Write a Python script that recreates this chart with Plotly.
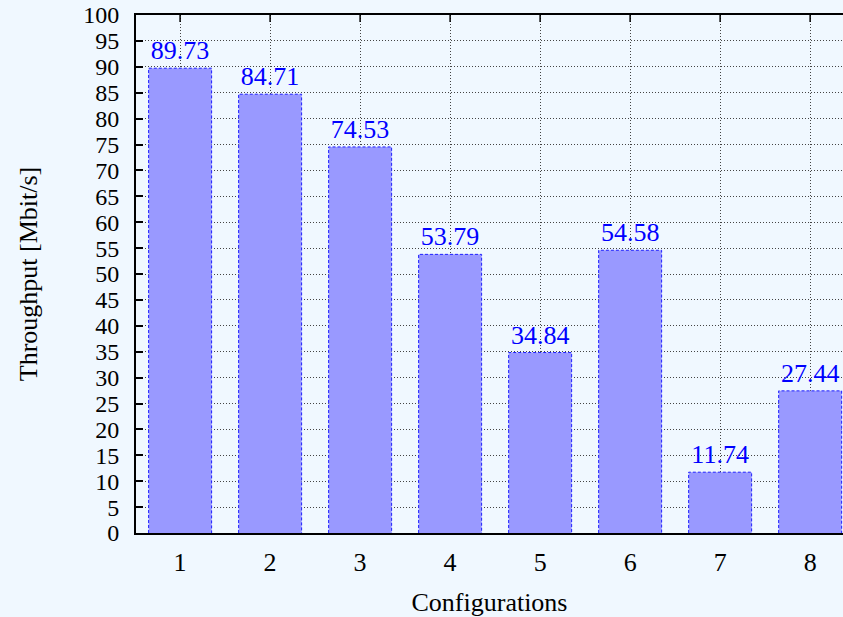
import plotly.graph_objects as go

categories = [1, 2, 3, 4, 5, 6, 7, 8]
throughput = [89.73, 84.71, 74.53, 53.79, 34.84, 54.58, 11.74, 27.44]
y_ticks = list(range(0, 101, 5))
labels = [f"{v:.2f}" for v in throughput]

FONT = "Liberation Serif, Times New Roman, serif"
BAR_W = 0.7
BG = "#f0f8ff"

fig = go.Figure()
fig.add_trace(go.Bar(
    x=categories, y=throughput, width=BAR_W,
    marker=dict(color="#9999ff", line=dict(width=0)),
    text=labels, textposition="outside", cliponaxis=False,
    textfont=dict(color="#0000ff", size=26, family=FONT),
    hoverinfo="skip",
))

# dashed outlines of bars
ox, oy = [], []
for c, v in zip(categories, throughput):
    ox += [c - BAR_W / 2, c - BAR_W / 2, c + BAR_W / 2, c + BAR_W / 2, None]
    oy += [0, v, v, 0, None]
fig.add_trace(go.Scatter(x=ox, y=oy, mode="lines",
                         line=dict(color="#2020ff", width=1, dash="3px,2px"),
                         hoverinfo="skip", showlegend=False))

# top tick marks
for c in categories:
    fig.add_shape(type="line", xref="x", yref="paper", x0=c, x1=c, y0=1, y1=1 - 7 / 518,
                  line=dict(color="black", width=1.5))

fig.update_layout(
    width=843, height=617,
    margin=dict(l=136, r=0, t=15, b=84),
    paper_bgcolor=BG, plot_bgcolor=BG,
    font=dict(family=FONT, size=26, color="black"),
    showlegend=False,
    bargap=0.3,
)
fig.update_xaxes(
    range=[0.51, 8.365], tickvals=categories, ticktext=[str(c) for c in categories],
    showgrid=True, gridcolor="#444444", griddash="1px,2px", gridwidth=1,
    showline=True, linecolor="black", linewidth=2, mirror=True,
    ticks="", ticklabelstandoff=5, zeroline=False,
    title=dict(text="Configurations", font=dict(size=26), standoff=18),
    tickfont=dict(size=26),
)
fig.update_yaxes(
    range=[0, 100], tickvals=y_ticks,
    showgrid=True, gridcolor="#444444", griddash="1px,2px", gridwidth=1,
    showline=True, linecolor="black", linewidth=2,
    ticks="inside", ticklen=7, tickcolor="black", tickwidth=1.5,
    ticklabelstandoff=10, zeroline=False,
    title=dict(text="Throughput [Mbit/s]", font=dict(size=26), standoff=38),
    tickfont=dict(size=24),
)

fig.write_html("out.html", config={"displayModeBar": False},
               post_script="document.body.style.margin='0';document.body.style.background='%s';" % BG)
